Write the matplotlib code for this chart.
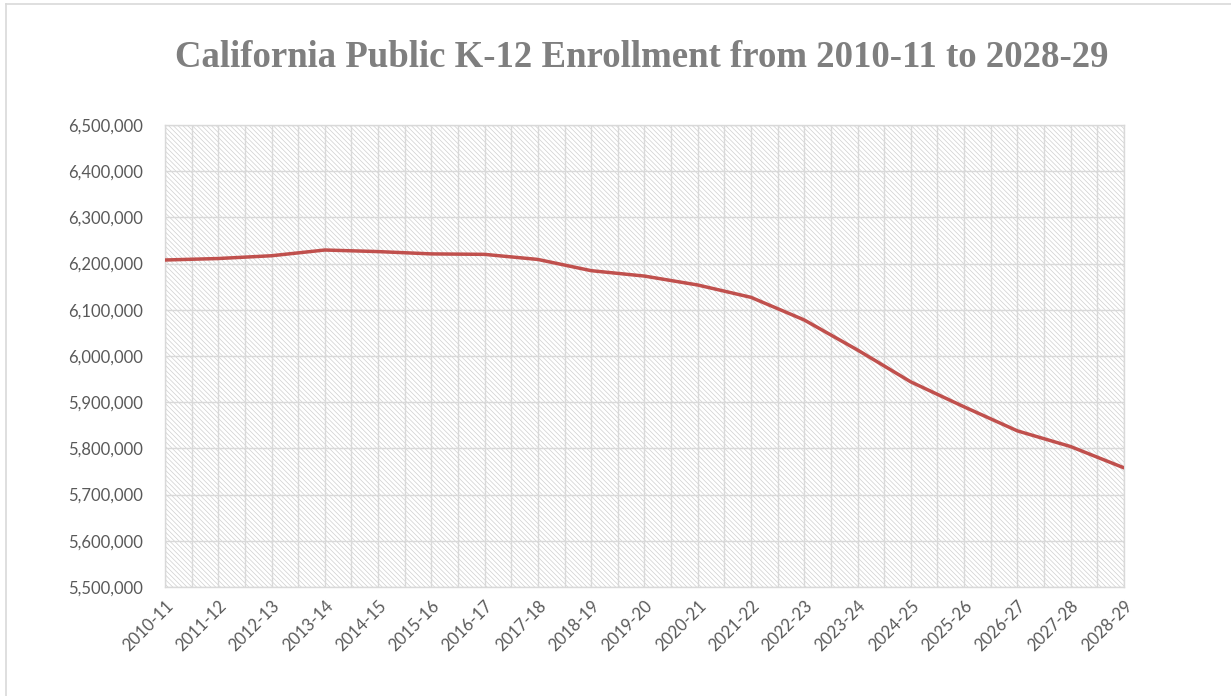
import numpy as np
import matplotlib
matplotlib.use("Agg")
import matplotlib.pyplot as plt
from matplotlib.patches import Rectangle
from matplotlib.lines import Line2D
from matplotlib.ticker import FuncFormatter, MultipleLocator

years = ["2010-11", "2011-12", "2012-13", "2013-14", "2014-15", "2015-16",
         "2016-17", "2017-18", "2018-19", "2019-20", "2020-21", "2021-22",
         "2022-23", "2023-24", "2024-25", "2025-26", "2026-27", "2027-28",
         "2028-29"]
enrollment = [6207800, 6211000, 6217000, 6229400, 6226000, 6221000,
              6220000, 6209000, 6184700, 6173000, 6153700, 6127000,
              6078000, 6013000, 5944000, 5890000, 5838000, 5804000,
              5758000]
title = "California Public K-12 Enrollment from 2010-11 to 2028-29"

grid_c = "#d9d9d9"
text_c = "#595959"
line_c = "#c0504d"
tick_font = ["Lato", "DejaVu Sans"]

plt.rcParams["hatch.linewidth"] = 0.5
plt.rcParams["hatch.color"] = "#cfcfcf"

fig = plt.figure(figsize=(12.31, 6.96), dpi=100)
ax = fig.add_axes([0.134, 0.1566, 0.779, 0.6638])

x = np.arange(len(years))
ax.set_xlim(0, len(years) - 1)
ax.set_ylim(5500000, 6500000)

# hatched plot area
ax.add_patch(Rectangle((0, 0), 1, 1, transform=ax.transAxes, facecolor="white",
                       edgecolor="#cfcfcf", hatch="\\" * 7, lw=0, zorder=0))

ax.set_xticks(x)
ax.set_xticklabels(years, rotation=45, ha="right", rotation_mode="anchor",
                   fontsize=12, color=text_c, family=tick_font)
ax.xaxis.set_minor_locator(MultipleLocator(0.5))
ax.yaxis.set_major_locator(MultipleLocator(100000))
ax.yaxis.set_major_formatter(FuncFormatter(lambda v, p: f"{int(v):,}"))
for lab in ax.get_yticklabels():
    lab.set_family(tick_font)
ax.tick_params(axis="y", labelsize=12, labelcolor=text_c, length=0, pad=16)
ax.tick_params(axis="x", which="both", length=0, pad=8)
ax.grid(True, which="both", axis="x", color=grid_c, lw=1.0, zorder=1)
ax.grid(True, which="major", axis="y", color=grid_c, lw=1.0, zorder=1)
ax.set_axisbelow(False)
for s in ax.spines.values():
    s.set_color(grid_c)
    s.set_linewidth(1.0)

ax.plot(x, enrollment, color=line_c, lw=2.5, solid_capstyle="round",
        solid_joinstyle="round", zorder=3)

fig.text(0.521, 0.918, title, ha="center", va="center", fontsize=26.5,
         fontweight="bold", color="#7f7f7f", family="Liberation Serif")

# chart border (left and top)
fig.add_artist(Line2D([0.0045, 0.0045], [0, 0.994], transform=fig.transFigure,
                      color=grid_c, lw=1.2))
fig.add_artist(Line2D([0.0045, 1], [0.994, 0.994], transform=fig.transFigure,
                      color=grid_c, lw=1.2))

fig.savefig("out.png", dpi=100)
